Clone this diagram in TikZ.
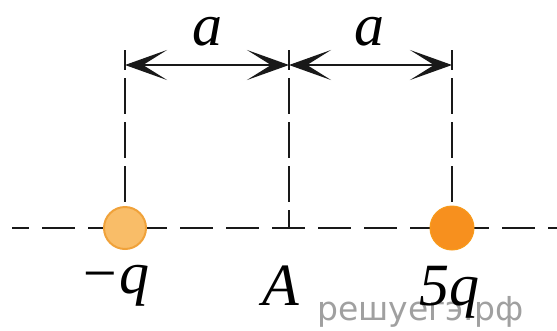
\documentclass[tikz,border=0pt]{standalone}
\usepackage{fontspec}
\setmainfont{Liberation Serif}
\newfontfamily\wmfont{DejaVu Sans}
\usetikzlibrary{arrows.meta,backgrounds}
\definecolor{chargelight}{HTML}{F9BD68}
\definecolor{chargelightedge}{HTML}{F0A23A}
\definecolor{chargedark}{HTML}{F7901E}
\definecolor{wmgray}{HTML}{A0A0A0}
\tikzset{
  axisline/.style={line width=2.8pt, black!90, dash pattern=on 33pt off 13pt, dash phase=16pt},
  guideline/.style={line width=2.6pt, black!90, dash pattern=on 36pt off 8pt, dash phase=16pt},
  dimarrow/.style={line width=2.4pt, black!90, {Stealth[length=42pt,width=30pt,inset=24pt]}-{Stealth[length=42pt,width=30pt,inset=24pt]}},
  chargeL/.style={circle, minimum size=42pt, inner sep=0pt, fill=chargelight, draw=chargelightedge, line width=2pt},
  chargeR/.style={circle, minimum size=44pt, inner sep=0pt, fill=chargedark, draw=chargedark!90!yellow, line width=1pt},
  lbl/.style={inner sep=0pt, font=\fontsize{60}{62}\selectfont\itshape},
  wm/.style={inner sep=0pt, text=wmgray, font=\fontsize{33}{36}\selectfont\wmfont}
}
\begin{document}
\begin{tikzpicture}[x=1pt,y=-1pt]
\useasboundingbox (0,0) rectangle (557,330);
% charges
\node[chargeL] (qL) at (125,228) {};
\node[chargeR] (qR) at (452,228) {};
\coordinate (pA) at (289,228);
\coordinate (axL) at (12,228);
\coordinate (axR) at (557,228);
\coordinate (tL) at (125,50);
\coordinate (tA) at (289,50);
\coordinate (tR) at (452,50);
\coordinate (aL) at (125,65);
\coordinate (aA) at (289,65);
\coordinate (aR) at (452,65);
\begin{pgfonlayer}{background}
\draw[axisline] (axL) -- (axR);
\draw[guideline] (tL) -- (qL.center);
\draw[guideline] (tA) -- (pA);
\draw[guideline] (tR) -- (qR.center);
\end{pgfonlayer}
\draw[dimarrow] (aL) -- (aA);
\draw[dimarrow] (aA) -- (aR);
% labels
\node[lbl] (la1) at (207,32) {a};
\node[lbl] (la2) at (369,32) {a};
\node[wm, anchor=base west] (wmk) at (317,320) {решуегэ.рф};
\node[lbl, anchor=base west] (lq) at (79,293) {−q};
\node[lbl, anchor=base west] (lA) at (262,305) {A};
\node[lbl, anchor=base west] (l5q) at (419,305) {5q};
\end{tikzpicture}
\end{document}
